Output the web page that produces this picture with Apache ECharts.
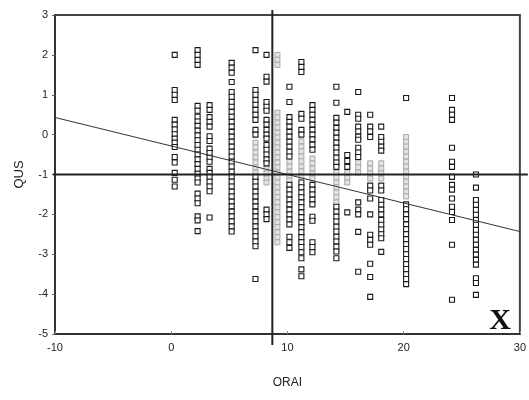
<!DOCTYPE html>
<html>
<head>
<meta charset="utf-8">
<script src="https://cdn.jsdelivr.net/npm/echarts@6/dist/echarts.min.js"></script>
<style>
  html, body { margin: 0; padding: 0; background: #fff; }
  #chart { width: 529px; height: 400px; }
</style>
</head>
<body>
<div id="chart"></div>
<script>
// ORAI score columns (x) and the QUS values observed at each column
const columnX = [0.3, 2.27, 3.3, 5.2, 7.25, 8.2, 9.14, 10.17, 11.2, 12.15, 14.21, 15.15, 16.09, 17.12, 18.07, 20.21, 24.16, 26.22];

// dark (outlined) markers, one list per column
const darkY = [
  [2.0, 1.12, 1.0, 0.87, 0.37, 0.25, 0.13, 0.01, -0.1, -0.2, -0.31, -0.56, -0.7, -0.96, -1.13, -1.3],
  [2.12, 2.0, 1.87, 1.75, 0.72, 0.6, 0.45, 0.33, 0.22, 0.1, -0.02, -0.14, -0.26, -0.38, -0.5, -0.62, -0.74, -0.86, -0.98, -1.1, -1.2, -1.48, -1.6, -1.72, -2.05, -2.15, -2.42],
  [0.74, 0.62, 0.44, 0.32, 0.2, -0.04, -0.16, -0.35, -0.46, -0.58, -0.68, -0.86, -0.96, -1.06, -1.18, -1.3, -1.42, -2.08],
  [1.8, 1.68, 1.55, 1.32, 1.07, 0.95, 0.82, 0.7, 0.57, 0.45, 0.32, 0.2, 0.07, -0.05, -0.18, -0.3, -0.43, -0.55, -0.68, -0.8, -0.93, -1.05, -1.18, -1.3, -1.43, -1.55, -1.68, -1.8, -1.93, -2.05, -2.18, -2.3, -2.43],
  [2.12, 1.12, 1.0, 0.87, 0.75, 0.62, 0.5, 0.37, 0.12, 0.0, -1.06, -1.18, -1.3, -1.43, -1.55, -1.68, -1.8, -1.93, -2.05, -2.18, -2.3, -2.43, -2.55, -2.68, -2.8, -3.62],
  [2.0, 1.45, 1.33, 0.82, 0.7, 0.6, 0.37, 0.25, 0.12, 0.0, -0.1, -0.26, -0.38, -0.5, -0.62, -0.72, -1.88, -2.0, -2.12],
  [],
  [1.2, 0.82, 0.44, 0.32, 0.2, 0.07, -0.05, -0.18, -0.3, -0.43, -0.55, -1.26, -1.38, -1.5, -1.63, -1.75, -1.88, -2.0, -2.13, -2.25, -2.56, -2.7, -2.84],
  [1.82, 1.7, 1.57, 0.52, 0.4, 0.12, 0.0, -1.2, -1.32, -1.45, -1.57, -1.7, -1.82, -1.95, -2.07, -2.2, -2.32, -2.45, -2.57, -2.7, -2.82, -2.95, -3.1, -3.38, -3.55],
  [0.74, 0.62, 0.5, 0.37, 0.25, 0.12, 0.0, -0.12, -0.25, -0.38, -1.26, -1.38, -1.5, -1.63, -1.75, -2.06, -2.16, -2.7, -2.82, -2.95],
  [1.2, 0.8, 0.42, 0.3, 0.17, 0.05, -0.08, -0.2, -0.33, -0.45, -0.58, -0.7, -0.81, -1.81, -1.93, -2.06, -2.18, -2.31, -2.43, -2.56, -2.68, -2.81, -2.93, -3.1],
  [0.57, -0.51, -0.66, -0.81, -1.95],
  [1.07, 0.5, 0.4, 0.2, 0.08, -0.05, -0.13, -0.33, -0.45, -0.56, -1.7, -1.88, -2.0, -2.44, -3.44],
  [0.5, 0.2, 0.08, -0.06, -1.28, -1.4, -1.6, -2.0, -2.51, -2.64, -2.76, -3.24, -3.57, -4.07],
  [0.2, -0.06, -0.18, -0.3, -0.4, -1.28, -1.4, -1.64, -1.76, -1.88, -2.0, -2.14, -2.26, -2.38, -2.5, -2.6, -2.94],
  [0.92, -1.75, -1.87, -2.0, -2.12, -2.25, -2.37, -2.5, -2.62, -2.75, -2.87, -3.0, -3.12, -3.25, -3.37, -3.5, -3.62, -3.75],
  [0.92, 0.62, 0.5, 0.37, -0.33, -0.68, -0.81, -1.06, -1.26, -1.38, -1.6, -1.81, -1.94, -2.14, -2.76, -4.14],
  [-1.0, -1.33, -1.64, -1.76, -1.89, -2.01, -2.14, -2.26, -2.39, -2.51, -2.64, -2.76, -2.89, -3.01, -3.14, -3.26, -3.6, -3.72, -4.02]
];

// faint (grey) markers, one list per column
const faintY = [
  [], [], [], [],
  [-0.2, -0.32, -0.45, -0.57, -0.7, -0.82, -0.95],
  [-0.85, -0.97, -1.1, -1.2],
  [2.0, 1.88, 1.75, 0.55, 0.43, 0.3, 0.18, 0.05, -0.07, -0.2, -0.32, -0.45, -0.57, -0.7, -0.82, -0.95, -1.07, -1.2, -1.32, -1.45, -1.57, -1.7, -1.82, -1.95, -2.07, -2.2, -2.32, -2.45, -2.57, -2.7],
  [-0.68, -0.8, -0.93, -1.05, -1.15],
  [-0.17, -0.3, -0.42, -0.55, -0.67, -0.8, -0.92, -1.05],
  [-0.6, -0.72, -0.85, -0.97, -1.1],
  [-0.95, -1.07, -1.2, -1.32, -1.45, -1.57, -1.7],
  [-0.95, -1.08, -1.2],
  [-0.7, -0.82, -0.95],
  [-0.72, -0.85, -0.97, -1.1],
  [-0.72, -0.85, -0.97, -1.1],
  [-0.06, -0.18, -0.3, -0.43, -0.55, -0.68, -0.8, -0.93, -1.05, -1.18, -1.3, -1.43, -1.55],
  [], []
];

// fitted regression line end points
const fitX = [-10, 30];
const fitY = [0.43, -2.43];

// cut-off reference lines
const cutX = [8.7];
const cutY = [-1];

// axis ranges and ticks
const xRange = [-10, 30];
const xStep = 10;
const yRange = [-5, 3];
const yStep = 1;

const toPoints = (cols) => cols.flatMap((ys, i) => ys.map(y => [columnX[i], y]));

const chart = echarts.init(document.getElementById('chart'), null, { renderer: 'canvas' });

const axisFont = { fontFamily: 'Liberation Sans, Arial, sans-serif', fontSize: 11, color: '#222' };

chart.setOption({
  animation: false,
  backgroundColor: '#fff',
  grid: {
    left: 55, right: 8, top: 15, bottom: 66,
    show: true, borderColor: '#444', borderWidth: 2, backgroundColor: 'transparent'
  },
  xAxis: {
    type: 'value', min: xRange[0], max: xRange[1], interval: xStep,
    name: 'ORAI', nameLocation: 'middle', nameGap: 43,
    nameTextStyle: { fontFamily: 'Liberation Sans, Arial, sans-serif', fontSize: 12, color: '#222' },
    axisLine: { show: true, onZero: false, lineStyle: { color: '#333', width: 2 } },
    axisTick: { show: true, length: 3, inside: true, lineStyle: { color: '#888' } },
    axisLabel: Object.assign({ margin: 8 }, axisFont),
    splitLine: { show: false }
  },
  yAxis: {
    type: 'value', min: yRange[0], max: yRange[1], interval: yStep,
    name: 'QUS', nameLocation: 'middle', nameGap: 29,
    nameTextStyle: { fontFamily: 'Liberation Sans, Arial, sans-serif', fontSize: 13, color: '#222' },
    axisLine: { show: true, onZero: false, lineStyle: { color: '#333', width: 2 } },
    axisTick: { show: true, length: 3, lineStyle: { color: '#666' } },
    axisLabel: Object.assign({ margin: 7 }, axisFont),
    splitLine: { show: false }
  },
  series: [
    {
      type: 'scatter', name: 'faint', z: 2,
      symbol: 'rect', symbolSize: 5,
      itemStyle: { color: '#e4e4e4', borderColor: '#a8a8a8', borderWidth: 1, opacity: 1 },
      data: toPoints(faintY)
    },
    {
      type: 'scatter', name: 'obs', z: 3,
      symbol: 'rect', symbolSize: 5,
      itemStyle: { color: '#fff', borderColor: '#1a1a1a', borderWidth: 1.1, opacity: 1 },
      data: toPoints(darkY)
    },
    {
      type: 'line', name: 'fit', z: 4,
      symbol: 'none', silent: true,
      lineStyle: { color: '#333', width: 1 },
      data: fitX.map((x, i) => [x, fitY[i]])
    },
    {
      type: 'custom', name: 'cuts', z: 5, clip: false, silent: true,
      data: [[cutX[0], cutY[0]]],
      renderItem: (params, api) => {
        const xv = api.value(0), yv = api.value(1);
        const top = api.coord([xv, yRange[1]]);
        const bot = api.coord([xv, yRange[0]]);
        const left = api.coord([xRange[0], yv]);
        const right = api.coord([xRange[1], yv]);
        return {
          type: 'group',
          children: [
            { type: 'line', shape: { x1: top[0], y1: top[1] - 5, x2: bot[0], y2: bot[1] + 11 },
              style: { stroke: '#222', lineWidth: 2 } },
            { type: 'line', shape: { x1: left[0] - 2, y1: left[1], x2: right[0] + 8, y2: right[1] },
              style: { stroke: '#222', lineWidth: 2 } }
          ]
        };
      }
    }
  ],
  graphic: [
    {
      type: 'text', right: 18, bottom: 64, z: 10,
      style: { text: 'X', font: 'bold 30px "Liberation Serif", "Times New Roman", serif', fill: '#111' }
    }
  ]
});
</script>
</body>
</html>
